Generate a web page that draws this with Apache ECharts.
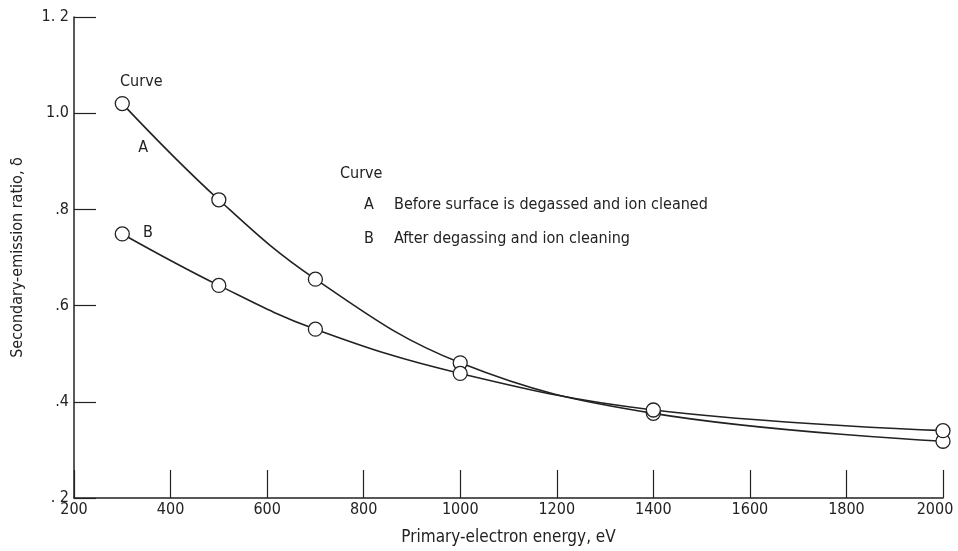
<!DOCTYPE html>
<html><head><meta charset="utf-8">
<script src="https://cdn.jsdelivr.net/npm/echarts@6/dist/echarts.min.js"></script>
<style>html,body{margin:0;padding:0;background:#fff}#c{width:958px;height:551px}</style>
</head><body><div id="c"></div>
<script>
const energies = [300, 500, 700, 1000, 1400, 2000];
const curveA = [1.02, 0.82, 0.655, 0.481, 0.376, 0.318];
const curveB = [0.749, 0.642, 0.551, 0.459, 0.383, 0.340];
const yTickLabels = {0.2: '. 2', 0.4: '.4', 0.6: '.6', 0.8: '.8', 1.0: '1.0', 1.2: '1. 2'};
const legendTitle = 'Curve';
const legendItems = [['A', 'Before surface is degassed and ion cleaned'], ['B', 'After degassing and ion cleaning']];

const FONT = '"DejaVu Sans Condensed", sans-serif';
const INK = '#222';
const chart = echarts.init(document.getElementById('c'));

function mk(vals, firstLabel) {
  return energies.map((e, i) => {
    const d = {value: [e, vals[i]]};
    if (i === 0 && firstLabel) d.label = firstLabel;
    return d;
  });
}

const option = {
  animation: false,
  backgroundColor: '#fff',
  grid: {left: 74, right: 15, top: 17, bottom: 53, outerBoundsMode: 'none', containLabel: false},
  xAxis: {
    type: 'value', min: 200, max: 2000, interval: 200,
    name: 'Primary-electron energy, eV', nameLocation: 'middle', nameGap: 31,
    nameTextStyle: {fontFamily: FONT, fontSize: 17, color: INK},
    axisLine: {lineStyle: {color: INK, width: 1.5}},
    axisTick: {inside: true, length: 28, lineStyle: {color: INK, width: 1.2}},
    axisLabel: {fontFamily: FONT, fontSize: 16, color: INK, margin: 4,
      formatter: v => v === 2000 ? '{r|' + v + '}' : String(v),
      rich: {r: {fontFamily: FONT, fontSize: 16, color: INK, padding: [0, 16, 0, 0]}}},
    splitLine: {show: false}
  },
  yAxis: {
    type: 'value', min: 0.2, max: 1.2, interval: 0.2,
    name: 'Secondary-emission ratio, δ', nameLocation: 'middle', nameGap: 48,
    nameTextStyle: {fontFamily: FONT, fontSize: 16, color: INK},
    axisLine: {show: true, lineStyle: {color: INK, width: 1.5}},
    axisTick: {show: true, inside: true, length: 22, lineStyle: {color: INK, width: 1.2}},
    axisLabel: {fontFamily: FONT, fontSize: 16, color: INK, margin: 5,
      formatter: v => yTickLabels[Math.round(v * 10) / 10] || ''},
    splitLine: {show: false}
  },
  series: [
    {
      name: 'A', type: 'line', smooth: 0.4, data: mk(curveA, {
        show: true, position: 'top', distance: 10, offset: [19, 4], formatter: 'Curve'
      }),
      symbol: 'circle', symbolSize: 14,
      itemStyle: {color: '#fff', borderColor: INK, borderWidth: 1.3},
      lineStyle: {color: INK, width: 1.6},
      label: {show: false, fontFamily: FONT, fontSize: 16, color: INK},
      markPoint: {
        symbol: 'circle', symbolSize: 1, silent: true,
        itemStyle: {color: 'rgba(0,0,0,0)'},
        data: [{coord: [energies[0], curveA[0]], label: {
          show: true, formatter: 'A', position: 'inside', offset: [21, 44],
          fontFamily: FONT, fontSize: 16, color: INK}}]
      },
      z: 3
    },
    {
      name: 'B', type: 'line', smooth: 0.4, data: mk(curveB, {
        show: true, position: 'right', distance: 13, offset: [0, -1], formatter: 'B'
      }),
      symbol: 'circle', symbolSize: 14,
      itemStyle: {color: '#fff', borderColor: INK, borderWidth: 1.3},
      lineStyle: {color: INK, width: 1.6},
      label: {show: false, fontFamily: FONT, fontSize: 16, color: INK},
      z: 3
    }
  ],
  graphic: [
    {type: 'text', left: 340, top: 166, style: {text: legendTitle, font: '16px ' + FONT, fill: INK}},
    ...legendItems.map((it, i) => ({type: 'group', left: 364, top: 197 + i * 34, children: [
      {type: 'text', left: 0, top: 0, style: {text: it[0], font: '16px ' + FONT, fill: INK}},
      {type: 'text', left: 30, top: 0, style: {text: it[1], font: '16px ' + FONT, fill: INK}}
    ]}))
  ]
};
chart.setOption(option);
</script></body></html>
